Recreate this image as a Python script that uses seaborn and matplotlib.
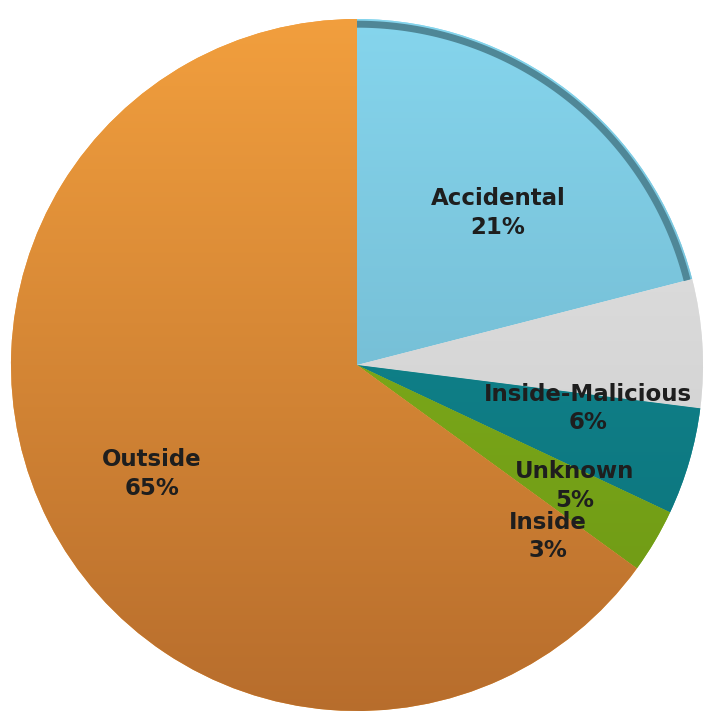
import numpy as np
import matplotlib
matplotlib.use("Agg")
import matplotlib.pyplot as plt
import seaborn as sns
from matplotlib.colors import LinearSegmentedColormap

sns.set_theme(style="white")
plt.rcParams['font.family'] = ['DejaVu Sans']

categories = ["Accidental", "Inside-Malicious", "Unknown", "Inside", "Outside"]
values = [21, 6, 5, 3, 65]
pct_labels = ["21%", "6%", "5%", "3%", "65%"]
# top / bottom colours for a soft vertical gradient per wedge
top_colors = ["#86d6ee", "#e6e6e6", "#138d96", "#86b61e", "#f3a03e"]
bot_colors = ["#68aac0", "#c8c8c8", "#0b7078", "#6c9614", "#b66c2c"]
# label positions (axes-fraction)
label_pos = [(0.685, 0.702), (0.809, 0.429), (0.791, 0.320), (0.754, 0.250), (0.209, 0.337)]

W, H = 727, 715
fig = plt.figure(figsize=(W / 100, H / 100), dpi=100)
ax = fig.add_axes([0, 0, 1, 1])
R = 346.0
cx, cy = 357.0, 715 - 365.0

wedges, _ = ax.pie(values, startangle=90, counterclock=False,
                   colors=top_colors, radius=1.0, center=(0, 0),
                   wedgeprops=dict(linewidth=0, edgecolor="none"))
ax.set_aspect("auto")
ax.set_xlim(-cx / R, (W - cx) / R)
ax.set_ylim(-cy / R, (H - cy) / R)

# gradient fill clipped to each wedge
ext = [-1.05, 1.05, -1.05, 1.05]
grad = np.linspace(1, 0, 256).reshape(-1, 1)
for w, tc, bc in zip(wedges, top_colors, bot_colors):
    cmap = LinearSegmentedColormap.from_list("g", [bc, tc])
    im = ax.imshow(grad, extent=ext, cmap=cmap, aspect="auto", origin="upper",
                   zorder=w.get_zorder() + 0.1, vmin=0, vmax=1)
    im.set_clip_path(w)
ax.set_xlim(-cx / R, (W - cx) / R)
ax.set_ylim(-cy / R, (H - cy) / R)

# thin darker rim along the Accidental arc
th = np.linspace(90, 90 - 360 * values[0] / sum(values), 100)
ax.plot(0.985 * np.cos(np.radians(th)), 0.985 * np.sin(np.radians(th)),
        color="#4f8797", lw=5, zorder=5, solid_capstyle="butt")

for cat, pct, (x, y) in zip(categories, pct_labels, label_pos):
    ax.text(x, y, f"{cat}\n{pct}", transform=ax.transAxes, ha="center", va="center",
            fontsize=16.5, fontweight="bold", color="#1e1e1e", linespacing=1.3, zorder=10)

ax.axis("off")
fig.savefig("out.png", dpi=100, facecolor="white")
